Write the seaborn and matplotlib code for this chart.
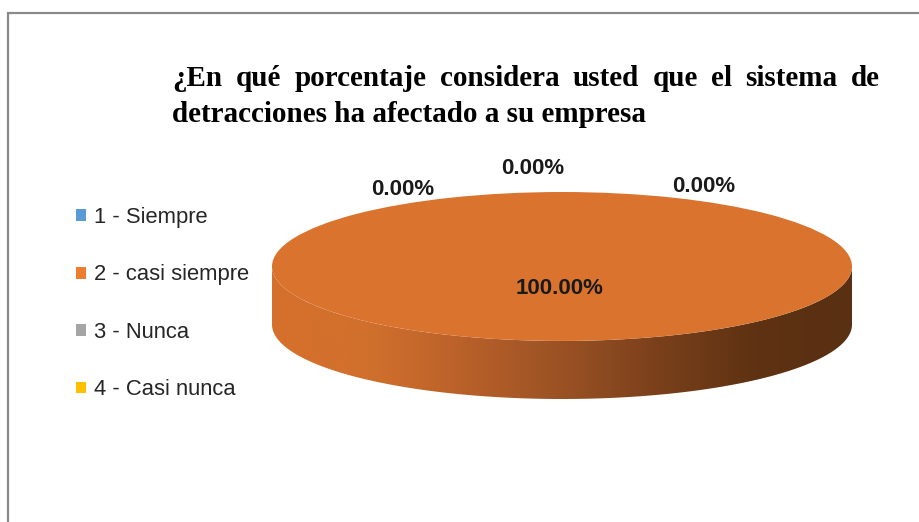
import numpy as np
import matplotlib
matplotlib.use("Agg")
import matplotlib.pyplot as plt
import seaborn as sns
from matplotlib.path import Path as MplPath
from matplotlib.patches import PathPatch, Rectangle
from matplotlib.colors import LinearSegmentedColormap

W, H = 920, 522

CATEGORIES = ["1 - Siempre", "2 - casi siempre", "3 - Nunca", "4 - Casi nunca"]
PERCENTS = [0.0, 100.0, 0.0, 0.0]
LEGEND_COLORS = ["#5B9BD5", "#ED7D31", "#A5A5A5", "#FFC000"]
FACE_COLORS = ["#4F87BA", "#D9732E", "#8F8F8F", "#DDA700"]
TITLE_LINES = [
    "¿En qué porcentaje considera usted que el sistema de",
    "detracciones ha afectado a su empresa",
]
# label positions (data units of the pie axes), one per category
LABEL_POS = [(-0.55, 1.03), (-0.01, -0.30), (-0.10, 1.32), (0.49, 1.08)]

DEPTH = 0.78  # thickness of the 3d side, in pie radius units


def fx(px):
    return px / W


def fy(py):
    return 1 - py / H


def main():
    sns.set_theme(style="white")
    plt.rcParams["font.family"] = ["Liberation Sans", "DejaVu Sans"]

    fig = plt.figure(figsize=(W / 100, H / 100), dpi=100)
    fig.patch.set_facecolor("white")

    # outer chart border (only top and left edges are inside the picture)
    fig.patches.append(Rectangle((fx(8), fy(H + 20)), 1.2, fy(13) - fy(H + 20),
                                 transform=fig.transFigure, fill=False,
                                 edgecolor="#8a8a8a", linewidth=1.6))

    # pie axes: x spans the ellipse, y spans top face + side
    left, right, top, bottom = 272, 852, 192, 399
    ax = fig.add_axes([fx(left), fy(bottom), (right - left) / W, (bottom - top) / H])

    wedges, _ = ax.pie(PERCENTS, colors=FACE_COLORS, startangle=90,
                       counterclock=False, radius=1.0,
                       wedgeprops=dict(linewidth=0))
    for w in wedges:
        w.set_zorder(3)

    # front side of each wedge with a horizontal shading gradient
    side_cmap = LinearSegmentedColormap.from_list(
        "side", ["#D6702C", "#D1702D", "#B9602A", "#9A5224", "#7A401B", "#5E3213", "#5A3012"])
    for w in wedges:
        if w.theta2 - w.theta1 <= 0:
            continue
        t = np.radians(np.linspace(w.theta1, w.theta2, 720))
        t = t[np.sin(t) <= 0]
        if len(t) < 2:
            continue
        t = np.sort(np.mod(t, 2 * np.pi))
        xs, ys = np.cos(t), np.sin(t)
        verts = np.concatenate([np.column_stack([xs, ys]),
                                np.column_stack([xs[::-1], ys[::-1] - DEPTH])])
        path = MplPath(np.vstack([verts, verts[:1]]), closed=True)
        patch = PathPatch(path, facecolor="none", edgecolor="none")
        ax.add_patch(patch)
        grad = np.linspace(0, 1, 256).reshape(1, -1)
        im = ax.imshow(grad, cmap=side_cmap, extent=(-1, 1, -1 - DEPTH, 0.01),
                       aspect="auto", zorder=2, interpolation="bicubic")
        im.set_clip_path(patch)

    ax.set_xlim(-1.0, 1.0)
    ax.set_ylim(-1 - DEPTH, 1.0)
    ax.set_aspect("auto")
    ax.axis("off")

    # data labels
    total = sum(PERCENTS)
    for v, (lx, ly) in zip(PERCENTS, LABEL_POS):
        ax.text(lx, ly, f"{v / total * 100:.2f}%", ha="center", va="center",
                fontsize=16, fontweight="bold", color="#1a1a1a", zorder=5)

    # legend
    handles = [Rectangle((0, 0), 1, 1, facecolor=c, edgecolor="none") for c in LEGEND_COLORS]
    fig.legend(handles, CATEGORIES, loc="upper left", bbox_to_anchor=(fx(76), fy(207)),
               frameon=False, fontsize=15.8, handlelength=0.45, handleheight=0.45,
               handletextpad=0.35, labelspacing=1.66, borderpad=0, borderaxespad=0,
               labelcolor="#262626")

    # title: first line justified, second line left-aligned
    tkw = dict(fontsize=21, fontweight="bold", family=["Liberation Serif", "DejaVu Serif"],
               color="black", va="baseline")
    x0, x1 = 172, 880
    words = TITLE_LINES[0].split()
    texts = [fig.text(0, fy(86), wd, ha="left", **tkw) for wd in words]
    fig.canvas.draw()
    r = fig.canvas.get_renderer()
    widths = [t.get_window_extent(r).width for t in texts]
    gap = (x1 - x0 - sum(widths)) / (len(words) - 1)
    cx = x0
    for t, wd in zip(texts, widths):
        t.set_x(fx(cx))
        cx += wd + gap
    fig.text(fx(x0), fy(122), TITLE_LINES[1], ha="left", **tkw)

    fig.savefig("out.png", dpi=100)
    plt.close(fig)


if __name__ == "__main__":
    main()
